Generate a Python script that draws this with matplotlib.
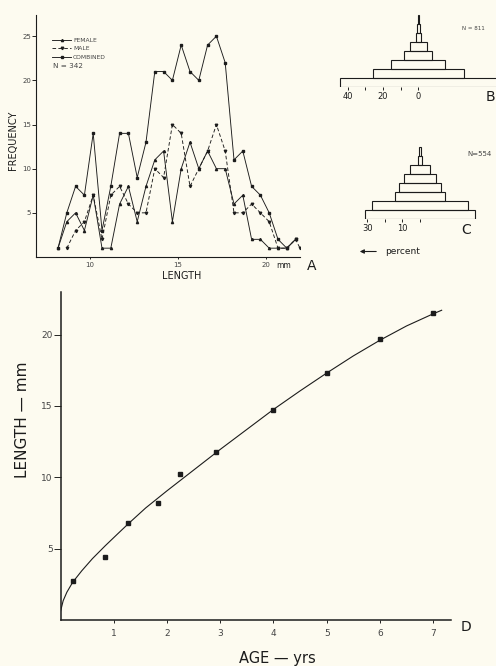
import matplotlib
matplotlib.use('Agg')
import matplotlib.pyplot as plt

W, H = 496, 666
BG = '#fdfbf0'
INK = '#1c1c1c'
GREY = '#444444'

# ---------------- Panel A : length-frequency ----------------
length_mm = [8.2, 8.7, 9.2, 9.7, 10.2, 10.7, 11.2, 11.7, 12.2, 12.7, 13.2, 13.7, 14.2, 14.7,
             15.2, 15.7, 16.2, 16.7, 17.2, 17.7, 18.2, 18.7, 19.2, 19.7, 20.2, 20.7, 21.2, 21.7]
female = [1, 4, 5, 3, 7, 1, 1, 6, 8, 4, 8, 11, 12, 4, 10, 13, 10, 12, 10, 10, 6, 7, 2, 2, 1, 1, 1, 2]
combined = [1, 5, 8, 7, 14, 3, 8, 14, 14, 9, 13, 21, 21, 20, 24, 21, 20, 24, 25, 22, 11, 12, 8, 7, 5, 2, 1, 2]
male_length = [8.7, 9.2, 9.7, 10.2, 10.7, 11.2, 11.7, 12.2, 12.7, 13.2, 13.7, 14.2, 14.7, 15.2,
               15.7, 16.2, 16.7, 17.2, 17.7, 18.2, 18.7, 19.2, 19.7, 20.2, 20.7, 21.2, 21.7, 21.95]
male = [1, 3, 4, 7, 2, 7, 8, 6, 5, 5, 10, 9, 15, 14, 8, 10, 12, 15, 12, 5, 5, 6, 5, 4, 1, 1, 2, 1]
freq_ticks = [5, 10, 15, 20, 25]
len_ticks = [10, 15, 20]

# ---------------- Panels B, C : percent pyramids ----------------
pyr_B = [44.5, 25.7, 15.3, 8.0, 4.7, 1.4, 0.8, 0.3]
pyr_C = [31.0, 27.0, 14.0, 12.0, 9.2, 5.4, 1.1, 0.7]

# ---------------- Panel D : growth ----------------
age_yrs = [0.23, 0.84, 1.26, 1.84, 2.25, 2.92, 4.0, 5.0, 6.0, 7.0]
length_d = [2.7, 4.4, 6.8, 8.2, 10.2, 11.8, 14.7, 17.3, 19.7, 21.5]
curve_age = [0.0, 0.05, 0.12, 0.23, 0.4, 0.6, 0.84, 1.05, 1.27, 1.6, 2.0, 2.5, 3.0, 3.5,
             4.0, 4.5, 5.0, 5.5, 6.0, 6.5, 7.0, 7.16]
curve_len = [0.6, 1.35, 1.95, 2.65, 3.45, 4.3, 5.2, 5.95, 6.73, 7.85, 9.05, 10.5, 11.95, 13.35,
             14.75, 16.05, 17.3, 18.5, 19.6, 20.6, 21.45, 21.7]

plt.rcParams['font.family'] = ['DejaVu Sans']

fig = plt.figure(figsize=(W / 100, H / 100), dpi=100, facecolor=BG)


def rect(l, t, r, b):
    return [l / W, 1 - b / H, (r - l) / W, (b - t) / H]


def ftext(x, y, s, **kw):
    fig.text(x / W, 1 - y / H, s, **kw)


# ---- A ----
axA = fig.add_axes(rect(36, 15, 300, 257))
axA.patch.set_visible(False)
hc, = axA.plot(length_mm, combined, color=INK, lw=0.65, marker='s', ms=1.7)
hf, = axA.plot(length_mm, female, color=INK, lw=0.65, marker='^', ms=1.6)
hm, = axA.plot(male_length, male, color=INK, lw=0.65, ls=(0, (4, 2.5)), marker='v', ms=1.8)
axA.set_xlim(6.95, 21.95)
axA.set_ylim(0, 27.4)
for s in ['top', 'right']:
    axA.spines[s].set_visible(False)
for s in ['left', 'bottom']:
    axA.spines[s].set_linewidth(0.8)
    axA.spines[s].set_color(INK)
axA.set_yticks(freq_ticks)
axA.set_xticks(len_ticks)
axA.tick_params(axis='y', direction='out', length=3, width=0.6, pad=0.5, labelsize=5, labelcolor=GREY)
axA.tick_params(axis='x', direction='out', length=1.5, width=0.6, pad=2, labelsize=5, labelcolor=GREY)
leg = axA.legend(handles=[hf, hm, hc], labels=['FEMALE', 'MALE', 'COMBINED'], loc='upper left',
                 bbox_to_anchor=((51.7 - 36) / 264, (257 - 37.5) / 242), frameon=False,
                 fontsize=4.3, handlelength=3.3, handletextpad=0.25, labelspacing=0.55,
                 borderpad=0, borderaxespad=0, numpoints=1, labelcolor=GREY)
ftext(53, 66, 'N = 342', fontsize=5.2, color=GREY, ha='left', va='center')
ftext(12.5, 140, 'FREQUENCY', fontsize=7, rotation=90, ha='center', va='center', color=INK)
ftext(182, 276, 'LENGTH', fontsize=7, ha='center', va='center', color=INK)
ftext(276, 266, 'mm', fontsize=5.5, ha='left', va='center', color=INK)
ftext(312, 266, 'A', fontsize=10, ha='center', va='center', color=INK)

# ---- B ----
axB = fig.add_axes(rect(418.3 - 46 * 1.77, 86.7 - 8.5 * 9, 418.3 + 46 * 1.77, 86.7))
axB.patch.set_visible(False)
axB.barh([i + 0.5 for i in range(len(pyr_B))], [2 * p for p in pyr_B], left=[-p for p in pyr_B],
         height=1.0, color='none', edgecolor=INK, lw=0.8)
axB.set_xlim(46, -46)
axB.set_ylim(0, 8.5)
for s in axB.spines.values():
    s.set_visible(False)
axB.set_yticks([])
axB.set_xticks([40, 20, 0])
axB.set_xticks([30, 10], minor=True)
axB.tick_params(axis='x', which='both', direction='out', length=2.5, width=0.6, pad=1,
                labelsize=6, labelcolor=INK)
ftext(473, 29, 'N = 811', fontsize=4, ha='center', va='center', color=GREY)
ftext(490, 97, 'B', fontsize=10, ha='center', va='center', color=INK)

# ---- C ----
axC = fig.add_axes(rect(420 - 36 * 1.76, 219 - 8.5 * 9, 420 + 36 * 1.76, 219))
axC.patch.set_visible(False)
axC.barh([i + 0.5 for i in range(len(pyr_C))], [2 * p for p in pyr_C], left=[-p for p in pyr_C],
         height=1.0, color='none', edgecolor=INK, lw=0.8)
axC.set_xlim(36, -36)
axC.set_ylim(0, 8.5)
for s in axC.spines.values():
    s.set_visible(False)
axC.set_yticks([])
axC.set_xticks([30, 10])
axC.set_xticks([20, 0], minor=True)
axC.tick_params(axis='x', which='both', direction='out', length=2.5, width=0.6, pad=1,
                labelsize=6, labelcolor=INK)
ftext(480, 154, 'N=554', fontsize=5, ha='center', va='center', color=GREY)
ftext(466.5, 230, 'C', fontsize=10, ha='center', va='center', color=INK)
fig.add_artist(matplotlib.patches.FancyArrowPatch((379 / W, 1 - 251.5 / H), (357 / W, 1 - 251.5 / H),
                                                  transform=fig.transFigure, arrowstyle='-|>',
                                                  mutation_scale=6, lw=0.8, color=INK))
ftext(385, 251, 'percent', fontsize=6.5, ha='left', va='center', color=INK)

# ---- D ----
axD = fig.add_axes(rect(60.5, 291.7, 450.7, 620))
axD.patch.set_visible(False)
axD.plot(curve_age, curve_len, color=INK, lw=0.8)
axD.plot(age_yrs, length_d, ls='none', marker='s', ms=2.6, color=INK)
axD.set_xlim(0, 7.33)
axD.set_ylim(0, 23.0)
for s in ['top', 'right']:
    axD.spines[s].set_visible(False)
for s in ['left', 'bottom']:
    axD.spines[s].set_linewidth(1.1)
    axD.spines[s].set_color(INK)
axD.set_xticks([1, 2, 3, 4, 5, 6, 7])
axD.set_yticks([5, 10, 15, 20])
axD.tick_params(axis='y', direction='out', length=5, width=0.6, pad=0.5, labelsize=6.5, labelcolor=GREY)
axD.tick_params(axis='x', direction='out', length=2.5, width=0.6, pad=4, labelsize=6.5, labelcolor=GREY)
ftext(23, 420, 'LENGTH — mm', fontsize=11, rotation=90, ha='center', va='center', color=INK)
ftext(277, 658, 'AGE — yrs', fontsize=10.5, ha='center', va='center', color=INK)
ftext(466, 627, 'D', fontsize=10, ha='center', va='center', color=INK)

fig.savefig('out.png', dpi=100, facecolor=BG)
